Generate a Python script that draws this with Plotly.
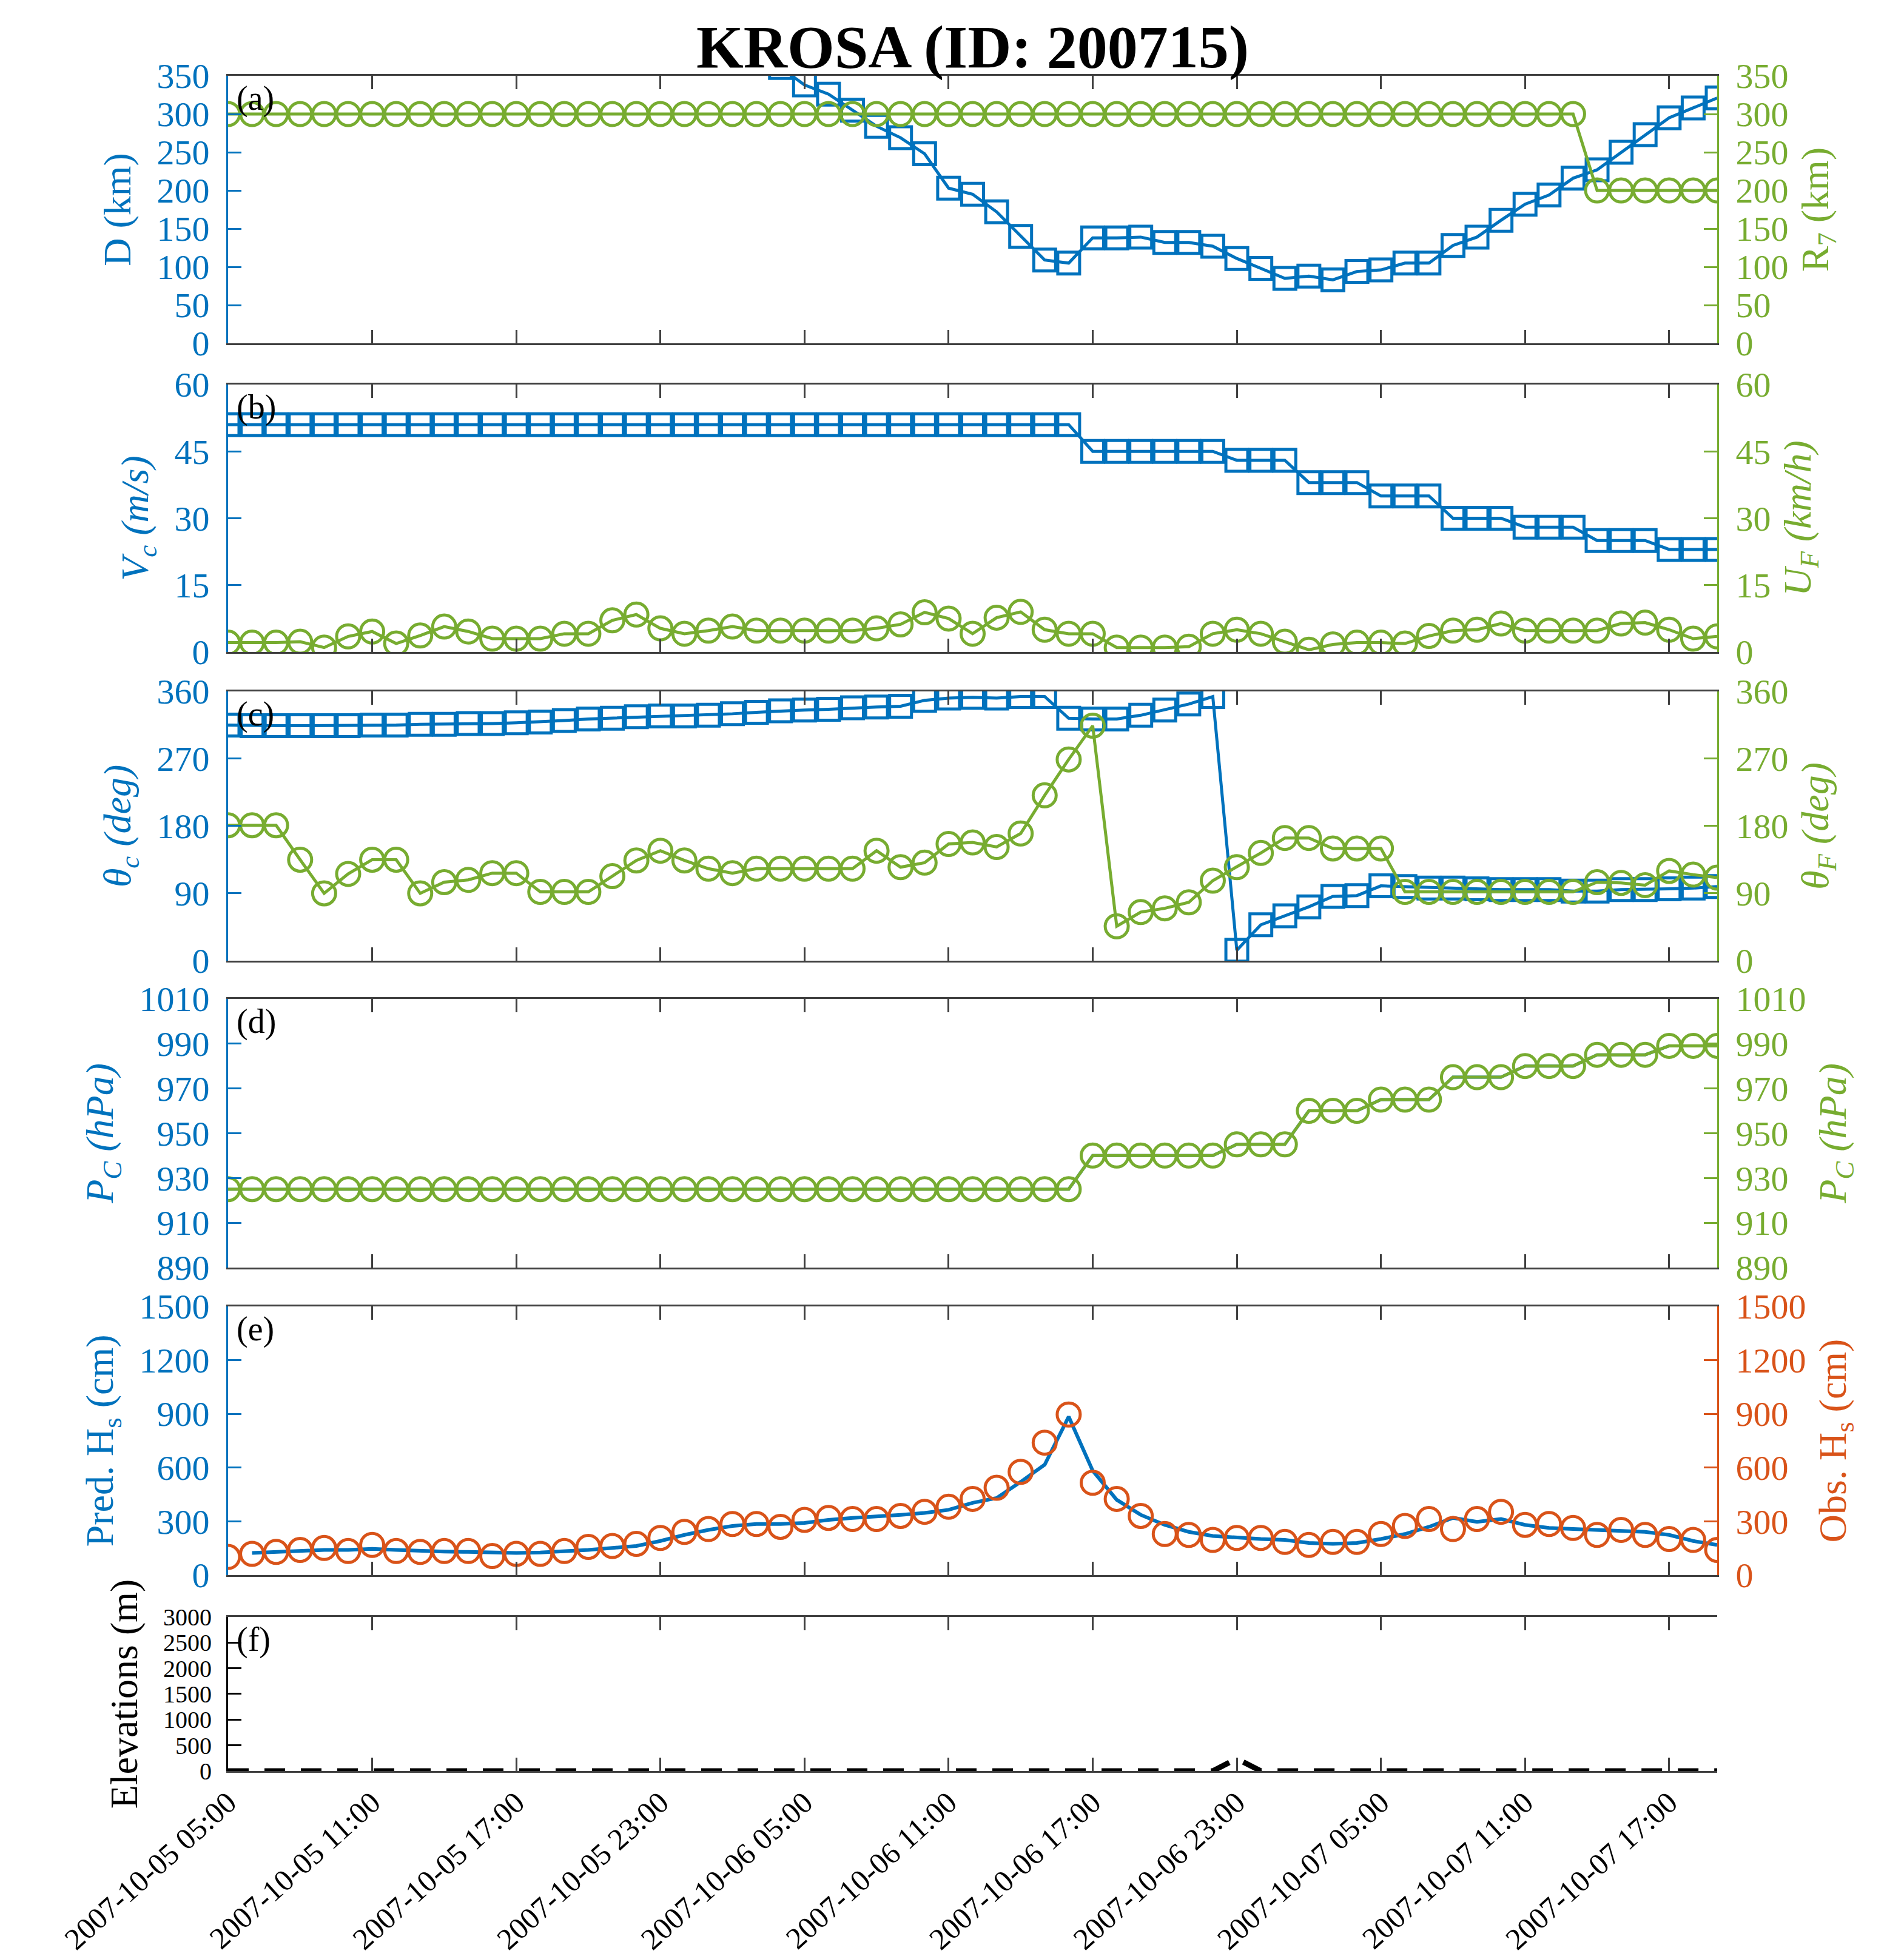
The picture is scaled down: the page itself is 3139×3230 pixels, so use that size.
import pandas as pd
import plotly.graph_objects as go

BLUE = "#0072BD"
GREEN = "#77AC30"
ORANGE = "#D95319"
BOX = "#404040"
FONT = "Liberation Serif"

# hourly time steps and 6-hourly tick positions
hours = pd.date_range("2007-10-05 05:00", periods=63, freq="h")
tick_times = pd.date_range("2007-10-05 05:00", "2007-10-07 17:00", freq="6h")

# (a) distance D (km) and R7 (km)
dist_km = [None, None, None, None, None, None, None, None, None, None,
           None, None, None, None, None, None, None, None, None, None,
           None, None, None, 361, 338, 326, 305, 284, 269, 248,
           203, 195, 172, 140, 109, 105, 138, 138, 139, 132,
           132, 127, 111, 98, 85, 88, 83, 94, 96, 105,
           105, 128, 139, 161, 182, 194, 216, 227, 250, 273,
           295, 308, 321]
r7_km = [300, 300, 300, 300, 300, 300, 300, 300, 300, 300,
         300, 300, 300, 300, 300, 300, 300, 300, 300, 300,
         300, 300, 300, 300, 300, 300, 300, 300, 300, 300,
         300, 300, 300, 300, 300, 300, 300, 300, 300, 300,
         300, 300, 300, 300, 300, 300, 300, 300, 300, 300,
         300, 300, 300, 300, 300, 300, 300, 200, 200, 200,
         200, 200, 200]

# (b) Vc (m/s) and UF (km/h)
vc_ms = [51, 51, 51, 51, 51, 51, 51, 51, 51, 51,
         51, 51, 51, 51, 51, 51, 51, 51, 51, 51,
         51, 51, 51, 51, 51, 51, 51, 51, 51, 51,
         51, 51, 51, 51, 51, 51, 45, 45, 45, 45,
         45, 45, 43, 43, 43, 38, 38, 38, 35, 35,
         35, 30, 30, 30, 28, 28, 28, 25, 25, 25,
         23, 23, 23]
uf_kmh = [2.1, 2.1, 2.1, 2.3, 1.0, 3.5, 4.6, 1.9, 3.7, 5.7,
          4.6, 3.0, 3.0, 3.0, 4.1, 4.1, 7.1, 8.4, 5.3, 4.1,
          4.8, 5.7, 4.8, 4.8, 4.8, 4.8, 4.8, 5.3, 6.2, 8.9,
          7.5, 4.1, 7.7, 9.0, 5.0, 4.1, 4.1, 1.0, 1.0, 1.0,
          1.2, 4.1, 5.0, 4.1, 2.3, 0.5, 1.7, 2.1, 2.1, 1.9,
          3.6, 4.8, 5.0, 6.4, 4.8, 4.8, 4.8, 4.8, 6.4, 6.6,
          5.0, 3.0, 3.5]

# (c) theta_c and theta_F (deg)
theta_c = [315, 314, 314, 314, 314, 314, 315, 315, 316, 316,
           317, 317, 318, 319, 321, 323, 324, 326, 327, 327,
           328, 330, 332, 334, 335, 336, 338, 339, 340, 348,
           351, 352, 351, 353, 353, 324, 323, 323, 328, 335,
           343, 353, 14, 48, 60, 72, 86, 87, 100, 99,
           97, 97, 96, 95, 95, 95, 93, 93, 95, 95,
           96, 97, 99]
theta_f = [181, 181, 181, 135, 90, 116, 135, 135, 90, 105,
           108, 117, 117, 92, 92, 92, 113, 134, 147, 134,
           123, 117, 123, 123, 123, 123, 123, 147, 125, 131,
           156, 158, 152, 170, 221, 269, 314, 46, 65, 70,
           78, 107, 125, 144, 164, 164, 150, 150, 150, 92,
           92, 92, 92, 92, 92, 92, 92, 105, 104, 101,
           120, 115, 111]

# (d) central pressure (hPa)
pc_hpa = [925, 925, 925, 925, 925, 925, 925, 925, 925, 925,
          925, 925, 925, 925, 925, 925, 925, 925, 925, 925,
          925, 925, 925, 925, 925, 925, 925, 925, 925, 925,
          925, 925, 925, 925, 925, 925, 940, 940, 940, 940,
          940, 940, 945, 945, 945, 960, 960, 960, 965, 965,
          965, 975, 975, 975, 980, 980, 980, 985, 985, 985,
          989, 989, 989]

# (e) predicted and observed Hs (cm)
hs_pred = [None, 123, 129, 134, 140, 140, 146, 140, 134, 131,
           129, 126, 123, 126, 132, 140, 151, 162, 190, 224,
           252, 274, 285, 285, 291, 308, 319, 325, 336, 347,
           364, 403, 430, 520, 616, 884, 582, 420, 336, 280,
           241, 218, 207, 201, 196, 179, 174, 179, 201, 229,
           269, 319, 297, 313, 280, 263, 257, 252, 246, 241,
           224, 190, 168]
hs_obs = [101, 118, 129, 140, 151, 134, 168, 134, 129, 134,
          134, 106, 118, 118, 134, 157, 162, 174, 207, 241,
          257, 285, 285, 269, 308, 319, 313, 313, 330, 353,
          381, 425, 487, 576, 739, 896, 515, 425, 330, 229,
          224, 196, 207, 207, 185, 168, 185, 185, 229, 274,
          313, 257, 313, 353, 280, 285, 263, 224, 252, 224,
          201, 196, 140]

# (f) elevations (m)
elev_m = [0, 0, 0, 0, 0, 0, 0, 0, 0, 0,
          0, 0, 0, 0, 0, 0, 0, 0, 0, 0,
          0, 0, 0, 0, 0, 0, 0, 0, 0, 0,
          0, 0, 0, 0, 0, 0, 0, 0, 0, 0,
          0, 0, 240, 0, 0, 0, 0, 0, 0, 0,
          0, 0, 0, 0, 0, 0, 0, 0, 0, 0,
          0, 0, 0]

panels = [
    dict(tag="(a)", dom=[0.8422, 1.0], lt="D (km)", rt="R<sub>7</sub> (km)",
         lr=[0, 350], lticks=[0, 50, 100, 150, 200, 250, 300, 350],
         rr=[0, 350], rticks=[0, 50, 100, 150, 200, 250, 300, 350],
         lc=BLUE, rc=GREEN, fs=58),
    dict(tag="(b)", dom=[0.6601, 0.8179], lt="<i>V<sub>c</sub> (m/s)</i>",
         rt="<i>U<sub>F</sub> (km/h)</i>",
         lr=[0, 60], lticks=[0, 15, 30, 45, 60],
         rr=[0, 60], rticks=[0, 15, 30, 45, 60], lc=BLUE, rc=GREEN, fs=58),
    dict(tag="(c)", dom=[0.4780, 0.6369], lt="<i>θ<sub>c</sub> (deg)</i>",
         rt="<i>θ<sub>F</sub> (deg)</i>",
         lr=[0, 360], lticks=[0, 90, 180, 270, 360],
         rr=[0, 360], rticks=[0, 90, 180, 270, 360], lc=BLUE, rc=GREEN, fs=58),
    dict(tag="(d)", dom=[0.2970, 0.4555], lt="<i>P<sub>C</sub> (hPa)</i>",
         rt="<i>P<sub>C</sub> (hPa)</i>",
         lr=[890, 1010], lticks=[890, 910, 930, 950, 970, 990, 1010],
         rr=[890, 1010], rticks=[890, 910, 930, 950, 970, 990, 1010],
         lc=BLUE, rc=GREEN, fs=58),
    dict(tag="(e)", dom=[0.1156, 0.2741], lt="Pred. H<sub>s</sub> (cm)",
         rt="Obs. H<sub>s</sub> (cm)",
         lr=[0, 1500], lticks=[0, 300, 600, 900, 1200, 1500],
         rr=[0, 1500], rticks=[0, 300, 600, 900, 1200, 1500],
         lc=BLUE, rc=ORANGE, fs=58),
    dict(tag="(f)", dom=[0.0, 0.0909], lt="Elevations (m)", rt="Elevations (m)",
         lr=[0, 3000], lticks=[0, 500, 1000, 1500, 2000, 2500, 3000],
         rr=[0, 3000], rticks=[0, 500, 1000, 1500, 2000, 2500, 3000],
         lc="black", rc="black", fs=40),
]

fig = go.Figure()

sq = dict(symbol="square-open", size=36, line=dict(width=5))
ci = dict(symbol="circle-open", size=38, line=dict(width=5))


def add(i, side, y, color, mode, marker=None, width=5, dash="solid"):
    xa = "x" if i == 0 else f"x{i + 1}"
    ya = f"y{2 * i + 1}" if side == "l" else f"y{2 * i + 2}"
    if ya == "y1":
        ya = "y"
    tr = go.Scatter(x=hours, y=y, mode=mode, xaxis=xa, yaxis=ya,
                    line=dict(color=color, width=width, dash=dash),
                    showlegend=False)
    if marker is not None:
        tr.marker = dict(color=color, **marker)
    fig.add_trace(tr)


add(0, "l", dist_km, BLUE, "lines+markers", sq)
add(0, "r", r7_km, GREEN, "lines+markers", ci)
add(1, "l", vc_ms, BLUE, "lines+markers", sq)
add(1, "r", uf_kmh, GREEN, "lines+markers", ci)
add(2, "l", theta_c, BLUE, "lines+markers", sq)
add(2, "r", theta_f, GREEN, "lines+markers", ci)
add(3, "l", pc_hpa, BLUE, "lines")
add(3, "r", pc_hpa, GREEN, "lines+markers", ci)
add(4, "l", hs_pred, BLUE, "lines", width=6)
add(4, "r", hs_obs, ORANGE, "markers", ci)
add(5, "l", elev_m, "black", "lines", width=9, dash="34px,26px")

layout = dict(
    width=3139, height=3230,
    margin=dict(l=368, r=316, t=117, b=318),
    paper_bgcolor="white", plot_bgcolor="white",
    font=dict(family=FONT, size=58, color="black"),
    title=dict(text="<b>KROSA (ID: 200715)</b>", x=0.5, xref="paper",
               y=0.979, yanchor="middle", font=dict(family=FONT, size=100)),
    annotations=[],
)

for i, p in enumerate(panels):
    xkey = "xaxis" if i == 0 else f"xaxis{i + 1}"
    lkey = "yaxis" if i == 0 else f"yaxis{2 * i + 1}"
    rkey = f"yaxis{2 * i + 2}"
    lname = "y" if i == 0 else f"y{2 * i + 1}"
    xname = "x" if i == 0 else f"x{i + 1}"
    last = i == len(panels) - 1
    layout[xkey] = dict(
        domain=[0, 1], anchor=lname, type="date", automargin=False,
        range=[hours[0], hours[-1]], matches=None if i == 0 else "x",
        tickvals=list(tick_times), tickformat="%Y-%m-%d %H:%M",
        showticklabels=last, tickangle=-42,
        tickfont=dict(family=FONT, size=50, color="black"),
        showline=True, linecolor=BOX, linewidth=3, mirror="ticks",
        ticks="inside", ticklen=22, tickwidth=3, tickcolor=BOX,
        showgrid=False, zeroline=False,
    )
    common = dict(showgrid=False, zeroline=False, showline=True, linewidth=3,
                  ticks="inside", ticklen=22, tickwidth=3, anchor=xname,
                  domain=p["dom"], ticklabelstandoff=16, automargin=False)
    layout[lkey] = dict(
        side="left", range=p["lr"], tickvals=p["lticks"],
        linecolor=p["lc"], tickcolor=p["lc"],
        tickfont=dict(family=FONT, size=p["fs"], color=p["lc"]),
        title=dict(text=p["lt"], standoff=22,
                   font=dict(family=FONT, size=64, color=p["lc"])),
        **common,
    )
    layout[rkey] = dict(
        side="right", overlaying=lname, range=p["rr"], tickvals=p["rticks"],
        linecolor=p["rc"], tickcolor=p["rc"],
        tickfont=dict(family=FONT, size=p["fs"], color=p["rc"]),
        title=dict(text=p["rt"], standoff=22,
                   font=dict(family=FONT, size=64, color=p["rc"])),
        **common,
    )
    layout["annotations"].append(dict(
        text=p["tag"], xref="paper", yref="paper", x=0.005, y=p["dom"][1],
        xanchor="left", yanchor="top", yshift=-4, showarrow=False,
        font=dict(family=FONT, size=56, color="black"),
    ))

fig.update_layout(**layout)
fig.write_html("out.html")
